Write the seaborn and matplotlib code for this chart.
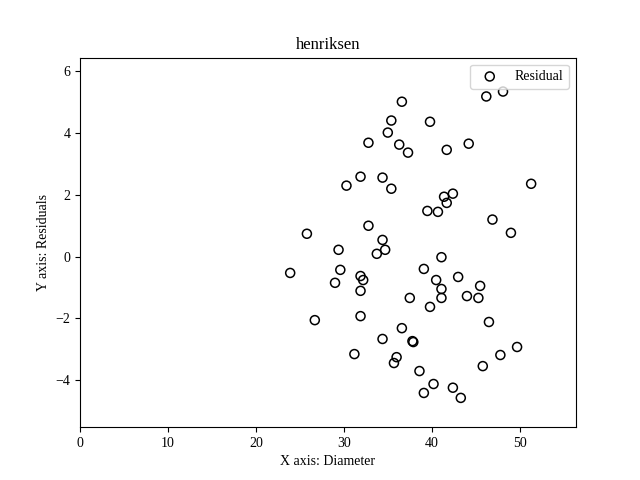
import matplotlib
matplotlib.use("Agg")
import matplotlib.pyplot as plt
import pandas as pd
import seaborn as sns

# values
diameter = [
    46.2, 48.1, 36.6, 35.4, 39.8, 35.0, 32.8, 36.3, 37.3, 41.7, 44.2,
    31.9, 30.3, 34.4, 35.4, 51.3, 41.4, 42.4, 41.7, 39.5, 40.7, 46.9,
    49.0, 32.8, 25.8, 34.4, 29.4, 33.75, 34.7, 41.1, 23.9, 29.6, 29.0,
    31.9, 32.2, 31.9, 39.1, 43.0, 40.5, 41.1, 45.5, 37.5, 41.1, 44.0,
    45.3, 39.8, 26.7, 31.9, 46.5, 36.6, 34.4, 37.9, 37.8, 49.7, 31.2,
    36.0, 35.7, 47.8, 45.8, 38.6, 40.2, 39.1, 42.4, 43.3,
]
residuals = [
    5.19, 5.35, 5.02, 4.41, 4.37, 4.02, 3.69, 3.63, 3.37, 3.46, 3.66,
    2.59, 2.30, 2.56, 2.20, 2.36, 1.94, 2.04, 1.74, 1.48, 1.45, 1.20,
    0.77, 1.00, 0.74, 0.54, 0.22, 0.09, 0.22, -0.02, -0.53, -0.43, -0.85,
    -0.63, -0.76, -1.11, -0.40, -0.66, -0.76, -1.05, -0.95, -1.34, -1.34, -1.28,
    -1.34, -1.63, -2.06, -1.93, -2.12, -2.32, -2.67, -2.77, -2.74, -2.93, -3.16,
    -3.26, -3.45, -3.19, -3.55, -3.71, -4.13, -4.42, -4.25, -4.58,
]

df = pd.DataFrame({"Diameter": diameter, "Residual": residuals})

plt.rcParams["font.family"] = ["Liberation Serif", "DejaVu Serif"]

fig, ax = plt.subplots(figsize=(6.4, 4.8), dpi=100)
sns.scatterplot(data=df, x="Diameter", y="Residual", ax=ax, s=42,
                facecolor="none", edgecolor="black", linewidth=1.1,
                label="Residual")
ax.set_xlim(0, 56.4)
ax.set_ylim(-5.53, 6.45)
ax.set_title("henriksen")
ax.set_xlabel("X axis: Diameter")
ax.set_ylabel("Y axis: Residuals")
ax.legend(loc="upper right")

plt.savefig("out.png", dpi=100)
